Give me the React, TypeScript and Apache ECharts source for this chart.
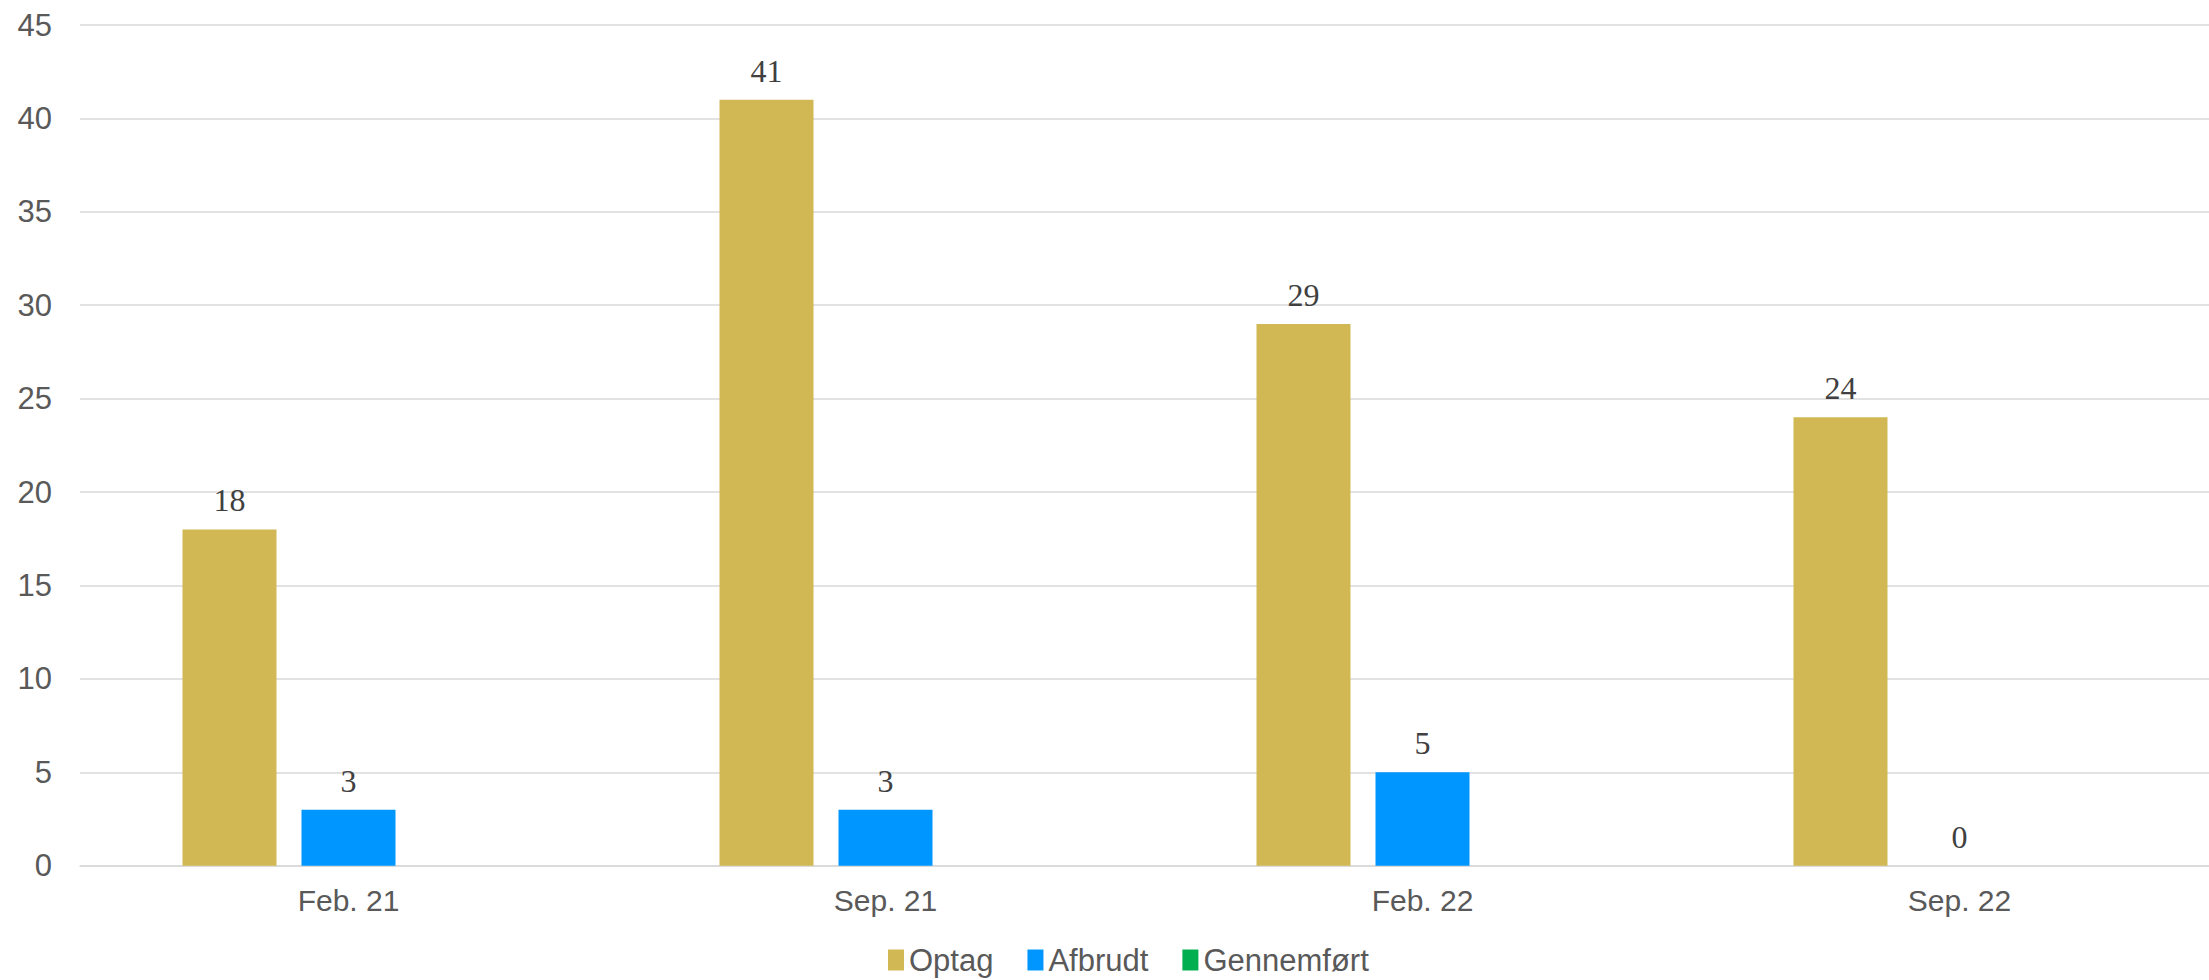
import React, { useEffect, useRef } from "react";
import * as echarts from "echarts";

const categories = ["Feb. 21", "Sep. 21", "Feb. 22", "Sep. 22"];
const optag = [18, 41, 29, 24];
const afbrudt = [3, 3, 5, 0];
const gennemfoert: (number | null)[] = [null, null, null, null];
const seriesNames = ["Optag", "Afbrudt", "Gennemført"];
const colors = ["#D1B854", "#0096FF", "#00B050"];

export default function App() {
  const ref = useRef<HTMLDivElement>(null);
  useEffect(() => {
    if (!ref.current) return;
    const chart = echarts.init(ref.current, undefined, { renderer: "svg" });
    const label = {
      show: true,
      position: "top",
      distance: 13,
      fontFamily: "'Liberation Serif', 'Times New Roman', serif",
      fontSize: 32,
      color: "#404040",
    };
    const mk = (name: string, data: (number | null)[], color: string, withLabel: boolean) => ({
      name,
      type: "bar",
      data,
      barWidth: 94,
      barGap: "26.6%",
      itemStyle: { color },
      label: withLabel ? label : { show: false },
    });
    chart.setOption({
      animation: false,
      backgroundColor: "#ffffff",
      grid: { left: 80, top: 25, right: 12, height: 840.7, containLabel: false },
      legend: {
        left: 883,
        top: 938,
        itemWidth: 16,
        itemHeight: 21,
        itemGap: 34,
        icon: "rect",
        data: seriesNames,
        textStyle: {
          fontFamily: "'Liberation Sans', Arial, sans-serif",
          fontSize: 31,
          lineHeight: 34,
          color: "#595959",
        },
      },
      xAxis: {
        type: "category",
        data: categories,
        axisLine: { show: true, lineStyle: { color: "#D9D9D9", width: 1.5 } },
        axisTick: { show: false },
        axisLabel: {
          margin: 20,
          fontFamily: "'Liberation Sans', Arial, sans-serif",
          fontSize: 30,
          color: "#595959",
        },
      },
      yAxis: {
        type: "value",
        min: 0,
        max: 45,
        interval: 5,
        axisLine: { show: false },
        axisTick: { show: false },
        splitLine: { lineStyle: { color: "#D9D9D9", width: 1.5 } },
        axisLabel: {
          margin: 28,
          fontFamily: "'Liberation Sans', Arial, sans-serif",
          fontSize: 31,
          color: "#595959",
        },
      },
      series: [
        mk(seriesNames[0], optag, colors[0], true),
        mk(seriesNames[1], afbrudt, colors[1], true),
        mk(seriesNames[2], gennemfoert, colors[2], false),
      ],
    });
    return () => chart.dispose();
  }, []);
  return (
    <div
      style={{ position: "absolute", left: 0, top: 0, width: 2209, height: 980, overflow: "hidden", background: "#fff" }}
    >
      <div ref={ref} style={{ position: "absolute", left: 0, top: 0, width: 2240, height: 980 }} />
    </div>
  );
}
